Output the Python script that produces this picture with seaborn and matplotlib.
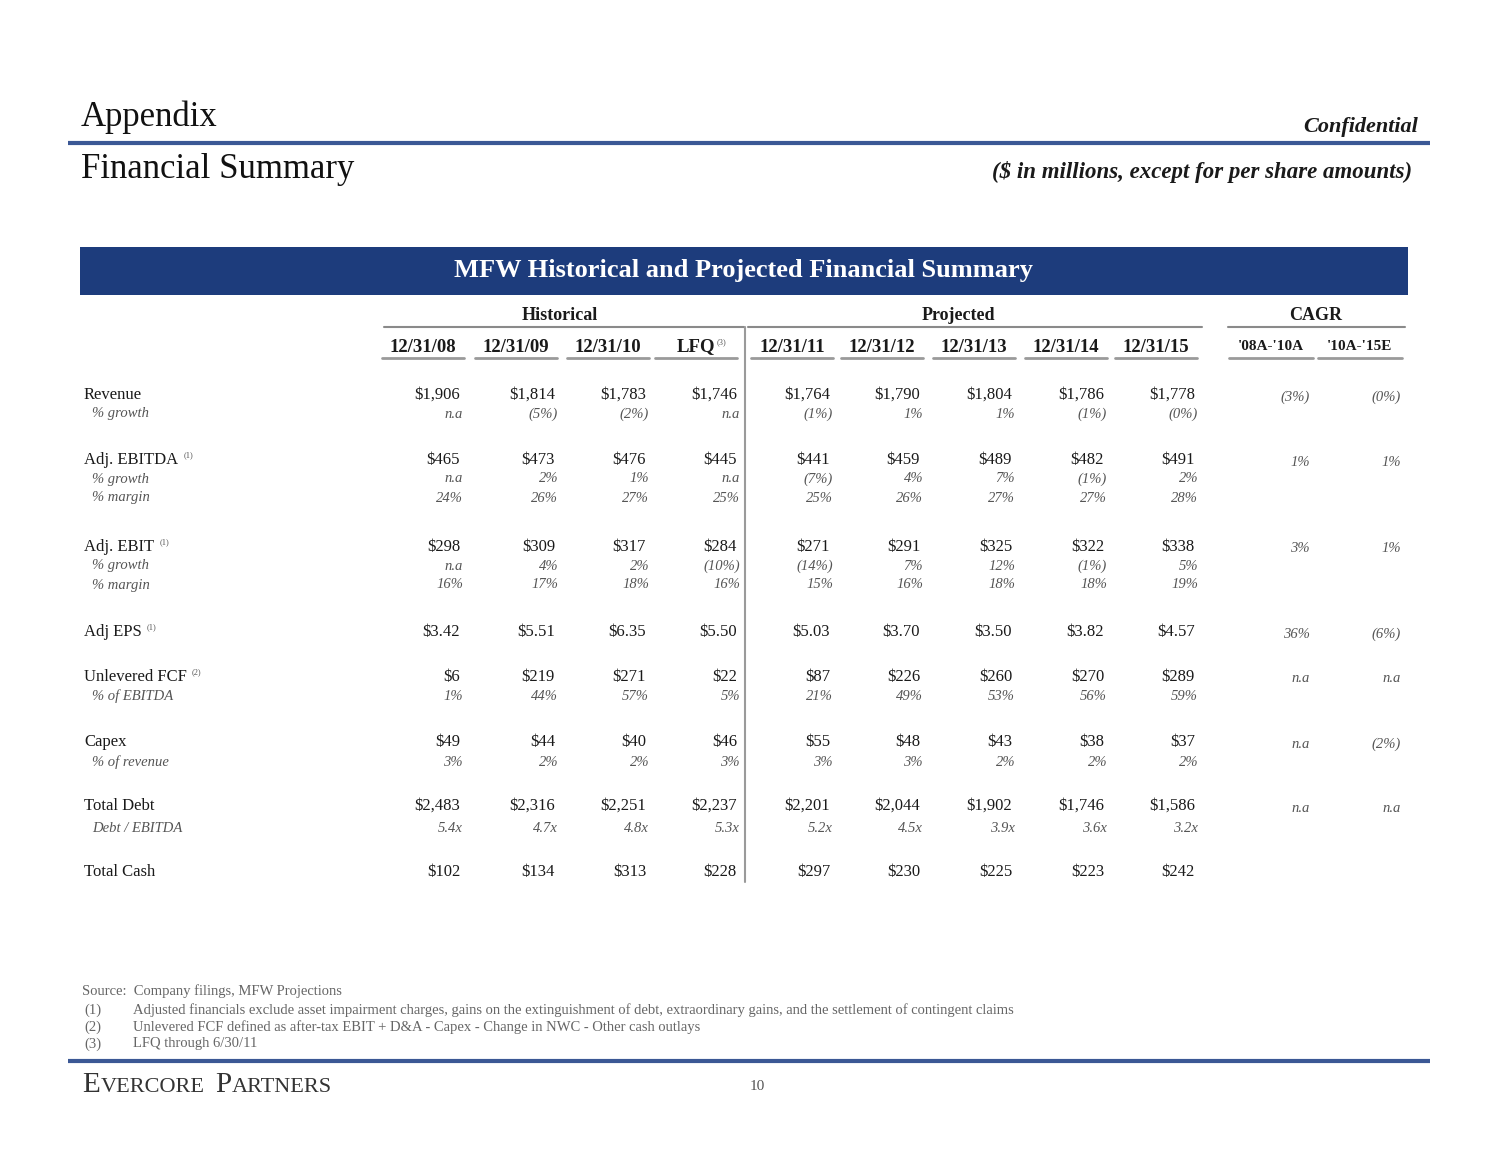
import math
import matplotlib.pyplot as plt
import seaborn as sns

# ---- data ----
columns = ["12/31/08", "12/31/09", "12/31/10", "LFQ", "12/31/11",
           "12/31/12", "12/31/13", "12/31/14", "12/31/15"]
cagr_columns = ["'08A-'10A", "'10A-'15E"]

revenue = [1906, 1814, 1783, 1746, 1764, 1790, 1804, 1786, 1778]
revenue_growth = [None, -5, -2, None, -1, 1, 1, -1, -0.0]
ebitda = [465, 473, 476, 445, 441, 459, 489, 482, 491]
ebitda_growth = [None, 2, 1, None, -7, 4, 7, -1, 2]
ebitda_margin = [24, 26, 27, 25, 25, 26, 27, 27, 28]
ebit = [298, 309, 317, 284, 271, 291, 325, 322, 338]
ebit_growth = [None, 4, 2, -10, -14, 7, 12, -1, 5]
ebit_margin = [16, 17, 18, 16, 15, 16, 18, 18, 19]
eps = [3.42, 5.51, 6.35, 5.50, 5.03, 3.70, 3.50, 3.82, 4.57]
fcf = [6, 219, 271, 22, 87, 226, 260, 270, 289]
fcf_pct_ebitda = [1, 44, 57, 5, 21, 49, 53, 56, 59]
capex = [49, 44, 40, 46, 55, 48, 43, 38, 37]
capex_pct_rev = [3, 2, 2, 3, 3, 3, 2, 2, 2]
total_debt = [2483, 2316, 2251, 2237, 2201, 2044, 1902, 1746, 1586]
debt_ebitda = [5.4, 4.7, 4.8, 5.3, 5.2, 4.5, 3.9, 3.6, 3.2]
total_cash = [102, 134, 313, 228, 297, 230, 225, 223, 242]

cagr_revenue = [-3, -0.0]
cagr_ebitda = [1, 1]
cagr_ebit = [3, 1]
cagr_eps = [36, -6]
cagr_fcf = [None, None]
cagr_capex = [None, -2]
cagr_debt = [None, None]

footnotes = [
    ("(1)", "Adjusted financials exclude asset impairment charges, gains on the extinguishment of debt, "
            "extraordinary gains, and the settlement of contingent claims"),
    ("(2)", "Unlevered FCF defined as after-tax EBIT + D&A - Capex - Change in NWC - Other cash outlays"),
    ("(3)", "LFQ through 6/30/11"),
]


def money(v, dec=0):
    return "$" + (f"{v:,.2f}" if dec else f"{v:,.0f}")


def pct(v):
    if v is None:
        return "n.a"
    if math.copysign(1, v) < 0:
        return f"({abs(v):.0f}%)"
    return f"{v:.0f}%"


def mult(v):
    return f"{v:.1f}x"


# ---- style ----
sns.set_theme(style="white")
plt.rcParams['font.family'] = ['Liberation Serif', 'DejaVu Serif']

NAVY = "#1d3c7c"
LINE_BLUE = "#3b5895"
DARK = "#1a1a1a"
GREY = "#555555"

fig = plt.figure(figsize=(15, 11.59), dpi=100)
ax = fig.add_axes([0, 0, 1, 1])
ax.set_xlim(0, 1500)
ax.set_ylim(1159, 0)
ax.axis("off")

# header
ax.text(81, 117, "Appendix", fontsize=25, color="#111111", va="center", ha="left")
ax.text(81, 170, "Financial Summary", fontsize=25, color="#111111", va="center", ha="left")
ax.plot([68, 1430], [143, 143], color=LINE_BLUE, lw=3, solid_capstyle="butt")
ax.text(1418, 127, "Confidential", fontsize=16, color=DARK, style="italic",
        fontweight="bold", va="center", ha="right")
ax.text(1412, 172, "($ in millions, except for per share amounts)", fontsize=16.5,
        color=DARK, style="italic", fontweight="bold", va="center", ha="right")

# banner
ax.fill_between([80, 1408], 247, 295, color=NAVY, lw=0)
ax.text(744, 271, "MFW Historical and Projected Financial Summary", fontsize=19,
        color="white", fontweight="bold", va="center", ha="center")

# column geometry
col_right = [460, 555, 646, 737, 830, 920, 1012, 1104, 1195]
col_center = [423, 516, 608, 696, 792, 882, 974, 1066, 1156]
cagr_right = [1310, 1401]
cagr_center = [1271, 1360]
sub_off = 3  # italic sub-rows sit slightly right

# group headers
ax.text(560, 316, "Historical", fontsize=13, fontweight="bold", color=DARK, ha="center", va="center")
ax.plot([384, 744], [327, 327], color="#8a8a8a", lw=1.5)
ax.text(958, 316, "Projected", fontsize=13, fontweight="bold", color=DARK, ha="center", va="center")
ax.plot([748, 1202], [327, 327], color="#8a8a8a", lw=1.5)
ax.text(1316, 316, "CAGR", fontsize=13, fontweight="bold", color=DARK, ha="center", va="center")
ax.plot([1228, 1405], [327, 327], color="#8a8a8a", lw=1.5)

for c, lab in zip(col_center, columns):
    ax.text(c, 347, lab, fontsize=13.5, fontweight="bold", color=DARK, ha="center", va="center")
    ax.plot([c - 41, c + 41], [358, 358], color="#9a9a9a", lw=2)
# LFQ footnote marker
ax.text(717, 342, "(3)", fontsize=6, color=GREY, ha="left", va="center")
for c, lab in zip(cagr_center, cagr_columns):
    ax.text(c, 347, lab, fontsize=11, fontweight="bold", color=DARK, ha="center", va="center")
    ax.plot([c - 42, c + 42], [358, 358], color="#9a9a9a", lw=2)

# vertical separator between historical and projected
ax.plot([745, 745], [327, 882], color="#9a9a9a", lw=1.5)

# rows: (label, superscript, y, strings, is_main)
rows = [
    ("Revenue", None, 395, [money(v) for v in revenue], True),
    ("% growth", None, 414, [pct(v) for v in revenue_growth], False),
    ("Adj. EBITDA", "(1)", 460, [money(v) for v in ebitda], True),
    ("% growth", None, 479, [pct(v) for v in ebitda_growth], False),
    ("% margin", None, 498, [pct(v) for v in ebitda_margin], False),
    ("Adj. EBIT", "(1)", 547, [money(v) for v in ebit], True),
    ("% growth", None, 566, [pct(v) for v in ebit_growth], False),
    ("% margin", None, 585, [pct(v) for v in ebit_margin], False),
    ("Adj EPS", "(1)", 632, [money(v, 2) for v in eps], True),
    ("Unlevered FCF", "(2)", 677, [money(v) for v in fcf], True),
    ("% of EBITDA", None, 696, [pct(v) for v in fcf_pct_ebitda], False),
    ("Capex", None, 742, [money(v) for v in capex], True),
    ("% of revenue", None, 762, [pct(v) for v in capex_pct_rev], False),
    ("Total Debt", None, 806, [money(v) for v in total_debt], True),
    ("Debt / EBITDA", None, 828, [mult(v) for v in debt_ebitda], False),
    ("Total Cash", None, 872, [money(v) for v in total_cash], True),
]

fig.canvas.draw()
renderer = fig.canvas.get_renderer()
inv = ax.transData.inverted()


def right_edge(t):
    bb = t.get_window_extent(renderer)
    return inv.transform((bb.x1, bb.y0))[0]


for label, sup, y, vals, main in rows:
    if main:
        t = ax.text(84, y, label, fontsize=12, color=DARK, ha="left", va="center")
        if sup:
            ax.text(right_edge(t) + 5, y - 5, sup, fontsize=6, color=GREY, ha="left", va="center")
        for r, s in zip(col_right, vals):
            ax.text(r, y, s, fontsize=12, color=DARK, ha="right", va="center")
    else:
        ax.text(92, y, label, fontsize=10.5, color=GREY, style="italic", ha="left", va="center")
        for r, s in zip(col_right, vals):
            ax.text(r + sub_off, y, s, fontsize=10.5, color=GREY, style="italic",
                    ha="right", va="center")

cagr_rows = [(397, cagr_revenue), (462, cagr_ebitda), (548, cagr_ebit), (634, cagr_eps),
             (679, cagr_fcf), (744, cagr_capex), (809, cagr_debt)]
for y, vals in cagr_rows:
    for r, v in zip(cagr_right, vals):
        ax.text(r, y, pct(v), fontsize=10.5, color=GREY, style="italic", ha="right", va="center")

# footnotes
ax.text(82, 991, "Source:  Company filings, MFW Projections", fontsize=10.5, color="#666666",
        ha="left", va="center")
for i, (num, txt) in enumerate(footnotes):
    y = 1010 + i * 17
    ax.text(84, y, num, fontsize=10.5, color="#666666", ha="left", va="center")
    ax.text(133, y, txt, fontsize=10.5, color="#666666", ha="left", va="center")

ax.plot([68, 1430], [1061, 1061], color=LINE_BLUE, lw=3, solid_capstyle="butt")

# logo in small caps
x = 82
for piece, size, gap in [("E", 21, 1), ("VERCORE", 16, 10), ("P", 21, 1), ("ARTNERS", 16, 0)]:
    t = ax.text(x, 1085 if size > 17 else 1087, piece, fontsize=size, color="#333333",
                ha="left", va="center")
    x = right_edge(t) + gap
ax.text(757, 1087, "10", fontsize=11, color=GREY, ha="center", va="center")

fig.savefig("out.png", dpi=100, facecolor="white")
